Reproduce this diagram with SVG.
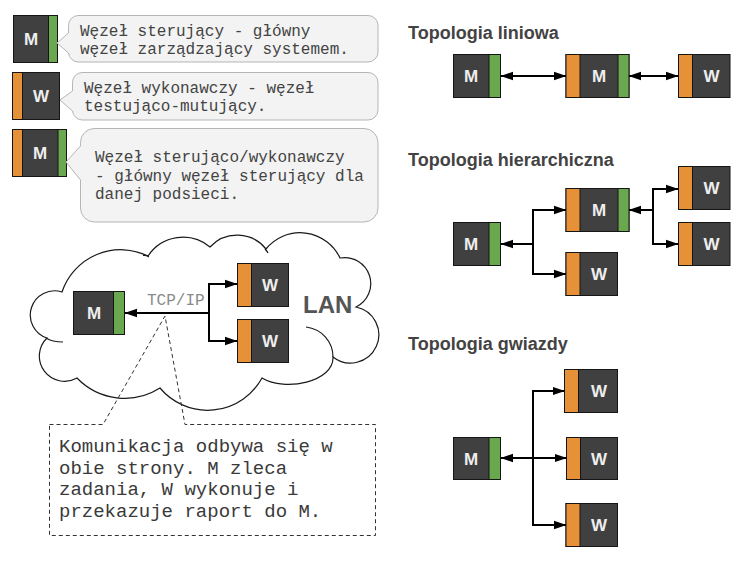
<svg xmlns="http://www.w3.org/2000/svg" width="744" height="562" viewBox="0 0 744 562">
<defs>
<style>
.dk{fill:#404040;stroke:#151515;stroke-width:1}
.or{fill:#e69138;stroke:#151515;stroke-width:1}
.gr{fill:#6aa84f;stroke:#151515;stroke-width:1}
.lt{font-family:"Liberation Sans",Arial,sans-serif;font-weight:bold;font-size:17px;fill:#eeeeee;text-anchor:middle}
.tt{font-family:"Liberation Sans",Arial,sans-serif;font-weight:bold;font-size:18px;fill:#434343}
.mono{font-family:"Liberation Mono","Courier New",monospace;font-size:16px;fill:#434343}
.box{font-family:"Liberation Mono","Courier New",monospace;font-size:19px;fill:#3a3a3a}
.bub{fill:#f3f3f3;stroke:#b5b5b5;stroke-width:1}
.cn{fill:none;stroke:#000;stroke-width:2}
.cl{fill:#fff;stroke:#1a1a1a;stroke-width:1.2}
.cli{fill:none;stroke:#1a1a1a;stroke-width:1.2}
</style>
<marker id="ah" markerUnits="userSpaceOnUse" markerWidth="13" markerHeight="10" refX="12" refY="5" orient="auto-start-reverse">
<path d="M0,0.8 L12.5,5 L0,9.2 Z" fill="#000"/>
</marker>
</defs>
<rect width="744" height="562" fill="#fff"/>

<!-- Legend -->
<g id="legend-m">
<rect class="dk" x="13.5" y="15.5" width="44" height="47"/>
<rect class="gr" x="48.5" y="15.5" width="9" height="47"/>
<text class="lt" x="31" y="45">M</text>
</g>
<g id="bubble-1">
<path class="bub" d="M78 15.5 H368 A10 10 0 0 1 378 25.5 V52 A10 10 0 0 1 368 62 H78 A10 10 0 0 1 68.5 53 L57 43 L68.5 33 V25.5 A10 10 0 0 1 78 15.5 Z"/>
<text class="mono" x="80" y="36">Węzeł sterujący - główny</text>
<text class="mono" x="80" y="54">węzeł zarządzający systemem.</text>
</g>
<g id="legend-w">
<rect class="dk" x="12.5" y="72.5" width="47" height="47"/>
<rect class="or" x="12.5" y="72.5" width="10" height="47"/>
<text class="lt" x="41" y="102">W</text>
</g>
<g id="bubble-2">
<path class="bub" d="M82 72.5 H368 A10 10 0 0 1 378 82.5 V110 A10 10 0 0 1 368 120 H82 A10 10 0 0 1 72.5 111 L60 100 L72.5 91 V82.5 A10 10 0 0 1 82 72.5 Z"/>
<text class="mono" x="84" y="93">Węzeł wykonawczy - węzeł</text>
<text class="mono" x="84" y="111">testująco-mutujący.</text>
</g>
<g id="legend-mw">
<rect class="dk" x="12.5" y="129.5" width="54" height="47"/>
<rect class="or" x="12.5" y="129.5" width="10" height="47"/>
<rect class="gr" x="58" y="129.5" width="8.5" height="47"/>
<text class="lt" x="40" y="159">M</text>
</g>
<g id="bubble-3">
<path class="bub" d="M94 128.5 H364 A14 14 0 0 1 378 142.5 V208 A14 14 0 0 1 364 222 H94 A14 14 0 0 1 80.5 208 V180 L66 162 L80.5 146 V142.5 A14 14 0 0 1 94 128.5 Z"/>
<text class="mono" x="95" y="162">Węzeł sterująco/wykonawczy</text>
<text class="mono" x="95" y="180.5">- główny węzeł sterujący dla</text>
<text class="mono" x="95" y="199">danej podsieci.</text>
</g>

<!-- LAN cloud -->
<g id="cloud">
<path class="cl" d="M62 292 A62 62 0 0 1 148 256 A42 42 0 0 1 210 247 A37 37 0 0 1 266 249 A44 44 0 0 1 340 258 A26 26 0 0 1 356 307 A28.3 28.3 0 1 1 333 357 C334 382 285 392 262 378 A62 62 0 0 1 160 388 A66 66 0 0 1 77 378 A25.2 25.2 0 0 1 47 338 A24 24 0 0 1 62 292 Z"/>
<path class="cli" d="M306 327 C322 329 333 342 333 357"/>
<path class="cli" d="M46 338 Q52 342 63 342"/>
<path class="cli" d="M143 255.5 Q146 255 149 257"/>
<path class="cli" d="M265 249 Q267 251 268 253"/>
<text x="303" y="312.5" font-family="'Liberation Sans',Arial,sans-serif" font-weight="bold" font-size="24" fill="#555">LAN</text>
</g>
<g id="lan-m">
<rect class="dk" x="73.5" y="291.5" width="51" height="43"/>
<rect class="gr" x="113.5" y="291.5" width="11" height="43"/>
<text class="lt" x="94" y="319">M</text>
</g>
<g id="lan-w1">
<rect class="dk" x="237.5" y="263.5" width="51" height="43"/>
<rect class="or" x="237.5" y="263.5" width="14" height="43"/>
<text class="lt" x="270" y="291">W</text>
</g>
<g id="lan-w2">
<rect class="dk" x="237.5" y="319.5" width="51" height="43"/>
<rect class="or" x="237.5" y="319.5" width="14" height="43"/>
<text class="lt" x="270" y="347">W</text>
</g>
<text x="147" y="305" font-family="'Liberation Mono','Courier New',monospace" font-size="16" fill="#8a8a8a">TCP/IP</text>

<!-- Callout -->
<g id="callout">
<path d="M49.5 424.5 H103 L165 316 L185 424.5 H375.5 V535.5 H49.5 Z" fill="none" stroke="#333" stroke-width="1" stroke-dasharray="4,3"/>
<text class="box" x="59" y="451.5">Komunikacja odbywa się w</text>
<text class="box" x="59" y="473.5">obie strony. M zleca</text>
<text class="box" x="59" y="495">zadania, W wykonuje i</text>
<text class="box" x="59" y="517">przekazuje raport do M.</text>
</g>

<!-- Titles -->
<text class="tt" x="408" y="38.5">Topologia liniowa</text>
<text class="tt" x="408" y="165.5">Topologia hierarchiczna</text>
<text class="tt" x="408" y="349.5">Topologia gwiazdy</text>

<!-- Linear -->
<g id="lin-m">
<rect class="dk" x="453.5" y="54.5" width="47" height="43"/>
<rect class="gr" x="489" y="54.5" width="11.5" height="43"/>
<text class="lt" x="471" y="82">M</text>
</g>
<g id="lin-mw">
<rect class="dk" x="566" y="54.5" width="63" height="43"/>
<rect class="or" x="566" y="54.5" width="14" height="43"/>
<rect class="gr" x="618" y="54.5" width="11" height="43"/>
<text class="lt" x="599" y="82">M</text>
</g>
<g id="lin-w">
<rect class="dk" x="678.5" y="54.5" width="51.5" height="43"/>
<rect class="or" x="678.5" y="54.5" width="14" height="43"/>
<text class="lt" x="711.5" y="82">W</text>
</g>

<!-- Hierarchical -->
<g id="hier-m">
<rect class="dk" x="453.5" y="222.5" width="47" height="43"/>
<rect class="gr" x="489" y="222.5" width="11.5" height="43"/>
<text class="lt" x="471" y="250">M</text>
</g>
<g id="hier-mw">
<rect class="dk" x="566" y="188.5" width="63" height="43"/>
<rect class="or" x="566" y="188.5" width="14" height="43"/>
<rect class="gr" x="618" y="188.5" width="11" height="43"/>
<text class="lt" x="599" y="216">M</text>
</g>
<g id="hier-w1">
<rect class="dk" x="566" y="252.5" width="51.5" height="43"/>
<rect class="or" x="566" y="252.5" width="14" height="43"/>
<text class="lt" x="599" y="280">W</text>
</g>
<g id="hier-w2">
<rect class="dk" x="678.5" y="166.5" width="51.5" height="43"/>
<rect class="or" x="678.5" y="166.5" width="14" height="43"/>
<text class="lt" x="711.5" y="194">W</text>
</g>
<g id="hier-w3">
<rect class="dk" x="678.5" y="222.5" width="51.5" height="43"/>
<rect class="or" x="678.5" y="222.5" width="14" height="43"/>
<text class="lt" x="711.5" y="250">W</text>
</g>

<!-- Star -->
<g id="star-m">
<rect class="dk" x="453.5" y="437.5" width="47" height="42"/>
<rect class="gr" x="489" y="437.5" width="11.5" height="42"/>
<text class="lt" x="471" y="464.5">M</text>
</g>
<g id="star-w1">
<rect class="dk" x="564.5" y="369.5" width="53" height="43"/>
<rect class="or" x="564.5" y="369.5" width="14" height="43"/>
<text class="lt" x="599" y="397">W</text>
</g>
<g id="star-w2">
<rect class="dk" x="566.5" y="437.5" width="51" height="42"/>
<rect class="or" x="566.5" y="437.5" width="14" height="42"/>
<text class="lt" x="599" y="464.5">W</text>
</g>
<g id="star-w3">
<rect class="dk" x="566" y="503.5" width="51.5" height="43"/>
<rect class="or" x="566" y="503.5" width="14" height="43"/>
<text class="lt" x="599" y="531">W</text>
</g>

<!-- Connectors -->
<g id="connectors">
<path class="cn" d="M209 313 H125" marker-end="url(#ah)"/>
<path class="cn" d="M209 313 V284 H237" marker-end="url(#ah)"/>
<path class="cn" d="M209 313 V341 H237" marker-end="url(#ah)"/>

<path class="cn" d="M501 76 H566" marker-start="url(#ah)" marker-end="url(#ah)"/>
<path class="cn" d="M629 76 H678" marker-start="url(#ah)" marker-end="url(#ah)"/>

<path class="cn" d="M533 244 H501" marker-end="url(#ah)"/>
<path class="cn" d="M533 244 V210 H566" marker-end="url(#ah)"/>
<path class="cn" d="M533 244 V274 H566" marker-end="url(#ah)"/>
<path class="cn" d="M653 210 H629" marker-end="url(#ah)"/>
<path class="cn" d="M653 210 V189 H678" marker-end="url(#ah)"/>
<path class="cn" d="M653 210 V244 H678" marker-end="url(#ah)"/>

<path class="cn" d="M533 458 H501" marker-end="url(#ah)"/>
<path class="cn" d="M533 458 V391 H564.5" marker-end="url(#ah)"/>
<path class="cn" d="M533 458 H566.5" marker-end="url(#ah)"/>
<path class="cn" d="M533 458 V525 H566" marker-end="url(#ah)"/>
</g>
</svg>
